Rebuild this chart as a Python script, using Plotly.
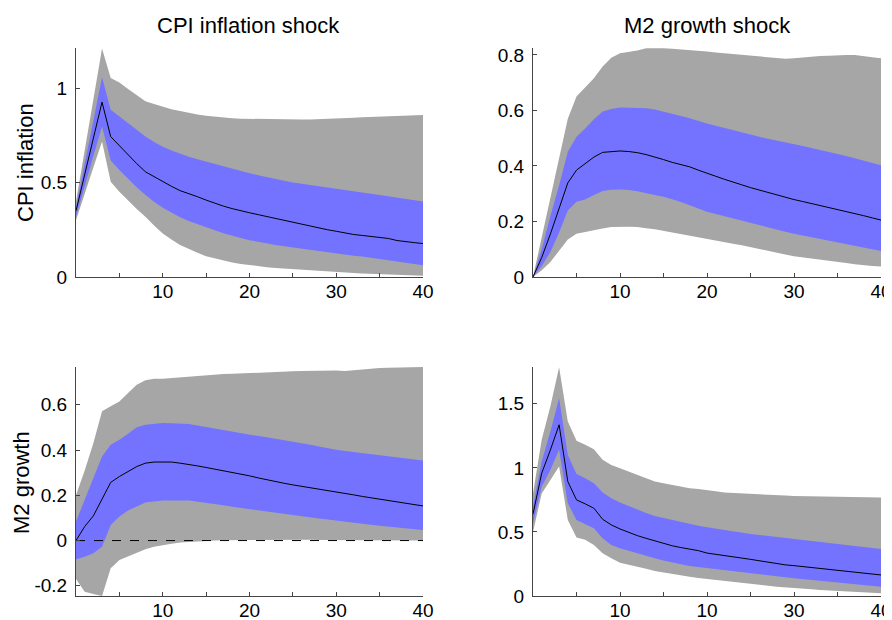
import plotly.graph_objects as go

# horizon (quarters)
horizon = list(range(0, 41))

# panel titles and axis texts
col_titles = ["CPI inflation shock", "M2 growth shock"]
row_titles = ["CPI inflation", "M2 growth"]
xtick_vals = [5, 10, 15, 20, 25, 30, 35, 40]
xtick_text = ["", "10", "", "20", "", "30", "", "40"]
xtick_text_br = ["", "10", "", "10", "", "30", "", "40"]

# top left: CPI inflation -> CPI inflation shock
tl_med = [0.35, 0.54, 0.73, 0.926, 0.743, 0.695, 0.650, 0.600, 0.557, 0.530, 0.505,
          0.480, 0.457, 0.442, 0.425, 0.407, 0.390, 0.375, 0.362, 0.349, 0.340,
          0.330, 0.320, 0.309, 0.298, 0.288, 0.280, 0.270, 0.257, 0.250, 0.242,
          0.233, 0.225, 0.220, 0.214, 0.209, 0.204, 0.193, 0.186, 0.182, 0.177]
tl_hi90 = [0.40, 0.67, 0.94, 1.21, 1.053, 1.030, 0.995, 0.960, 0.930, 0.915, 0.900,
           0.888, 0.878, 0.868, 0.860, 0.853, 0.848, 0.844, 0.840, 0.838, 0.837,
           0.836, 0.834, 0.833, 0.832, 0.832, 0.833, 0.834, 0.835, 0.836, 0.837,
           0.840, 0.843, 0.846, 0.848, 0.850, 0.852, 0.855, 0.856, 0.857, 0.858]
tl_hi68 = [0.37, 0.60, 0.83, 1.057, 0.885, 0.850, 0.815, 0.778, 0.743, 0.715, 0.690,
           0.670, 0.652, 0.637, 0.623, 0.610, 0.598, 0.585, 0.573, 0.560, 0.549,
           0.539, 0.528, 0.518, 0.509, 0.500, 0.493, 0.485, 0.478, 0.471, 0.464,
           0.458, 0.452, 0.446, 0.440, 0.434, 0.427, 0.420, 0.413, 0.406, 0.400]
tl_lo68 = [0.32, 0.48, 0.64, 0.796, 0.616, 0.566, 0.520, 0.475, 0.434, 0.398, 0.366,
           0.340, 0.316, 0.296, 0.278, 0.262, 0.247, 0.232, 0.218, 0.206, 0.195,
           0.186, 0.178, 0.170, 0.163, 0.156, 0.149, 0.142, 0.136, 0.130, 0.124,
           0.119, 0.113, 0.108, 0.102, 0.097, 0.090, 0.083, 0.076, 0.069, 0.062]
tl_lo90 = [0.30, 0.44, 0.58, 0.717, 0.504, 0.451, 0.405, 0.360, 0.319, 0.272, 0.230,
           0.198, 0.170, 0.148, 0.128, 0.110, 0.098, 0.087, 0.077, 0.069, 0.062,
           0.057, 0.052, 0.047, 0.043, 0.039, 0.036, 0.034, 0.031, 0.029, 0.027,
           0.024, 0.021, 0.018, 0.016, 0.014, 0.012, 0.010, 0.009, 0.008, 0.007]

# top right: CPI inflation -> M2 growth shock
tr_med = [0.0, 0.07, 0.155, 0.245, 0.339, 0.385, 0.410, 0.432, 0.449, 0.452, 0.454,
          0.452, 0.448, 0.441, 0.433, 0.423, 0.413, 0.405, 0.397, 0.385, 0.373,
          0.363, 0.352, 0.343, 0.332, 0.322, 0.313, 0.304, 0.295, 0.286, 0.279,
          0.272, 0.265, 0.258, 0.251, 0.244, 0.237, 0.229, 0.221, 0.213, 0.205]
tr_hi90 = [0.0, 0.14, 0.29, 0.43, 0.570, 0.650, 0.683, 0.716, 0.758, 0.790, 0.806,
           0.811, 0.816, 0.824, 0.825, 0.824, 0.822, 0.820, 0.818, 0.815, 0.812,
           0.809, 0.806, 0.803, 0.800, 0.797, 0.795, 0.793, 0.790, 0.786, 0.788,
           0.791, 0.794, 0.796, 0.797, 0.799, 0.800, 0.800, 0.797, 0.792, 0.788]
tr_hi68 = [0.0, 0.10, 0.22, 0.33, 0.451, 0.505, 0.535, 0.568, 0.596, 0.605, 0.611,
           0.610, 0.609, 0.608, 0.603, 0.596, 0.589, 0.580, 0.572, 0.562, 0.553,
           0.545, 0.537, 0.528, 0.519, 0.511, 0.505, 0.498, 0.492, 0.486, 0.479,
           0.472, 0.465, 0.457, 0.450, 0.443, 0.436, 0.428, 0.420, 0.411, 0.403]
tr_lo68 = [0.0, 0.04, 0.09, 0.16, 0.240, 0.271, 0.279, 0.295, 0.310, 0.314, 0.315,
           0.313, 0.309, 0.302, 0.295, 0.289, 0.280, 0.270, 0.259, 0.247, 0.235,
           0.227, 0.218, 0.210, 0.202, 0.195, 0.187, 0.179, 0.171, 0.163, 0.156,
           0.150, 0.144, 0.138, 0.132, 0.126, 0.120, 0.113, 0.107, 0.100, 0.094]
tr_lo90 = [0.0, 0.024, 0.054, 0.096, 0.135, 0.156, 0.163, 0.168, 0.175, 0.180, 0.181,
           0.181, 0.180, 0.176, 0.172, 0.168, 0.162, 0.156, 0.150, 0.144, 0.138,
           0.132, 0.126, 0.120, 0.114, 0.108, 0.101, 0.094, 0.088, 0.081, 0.075,
           0.071, 0.066, 0.062, 0.058, 0.054, 0.050, 0.046, 0.042, 0.040, 0.038]

# bottom left: M2 growth -> CPI inflation shock
bl_med = [0.0, 0.062, 0.109, 0.180, 0.257, 0.283, 0.305, 0.327, 0.342, 0.347, 0.347,
          0.347, 0.342, 0.337, 0.330, 0.323, 0.316, 0.309, 0.302, 0.294, 0.286,
          0.277, 0.268, 0.261, 0.253, 0.246, 0.240, 0.235, 0.229, 0.221, 0.214,
          0.208, 0.202, 0.195, 0.189, 0.183, 0.178, 0.173, 0.165, 0.159, 0.153]
bl_hi90 = [0.20, 0.31, 0.43, 0.571, 0.593, 0.615, 0.652, 0.689, 0.708, 0.715, 0.715,
           0.718, 0.721, 0.726, 0.730, 0.733, 0.735, 0.736, 0.737, 0.739, 0.740,
           0.741, 0.743, 0.745, 0.747, 0.748, 0.749, 0.750, 0.751, 0.751, 0.751,
           0.749, 0.753, 0.757, 0.760, 0.763, 0.764, 0.765, 0.766, 0.767, 0.767]
bl_hi68 = [0.084, 0.180, 0.268, 0.372, 0.423, 0.445, 0.472, 0.501, 0.512, 0.516, 0.519,
           0.518, 0.516, 0.515, 0.508, 0.501, 0.494, 0.487, 0.481, 0.474, 0.468,
           0.462, 0.456, 0.450, 0.444, 0.438, 0.431, 0.423, 0.416, 0.408, 0.401,
           0.396, 0.391, 0.386, 0.381, 0.376, 0.372, 0.367, 0.363, 0.358, 0.354]
bl_lo68 = [-0.083, -0.071, -0.056, -0.027, 0.069, 0.106, 0.133, 0.150, 0.168, 0.173, 0.177,
           0.177, 0.177, 0.177, 0.173, 0.168, 0.162, 0.156, 0.149, 0.142, 0.136,
           0.132, 0.127, 0.123, 0.118, 0.114, 0.109, 0.103, 0.098, 0.093, 0.088,
           0.084, 0.079, 0.074, 0.070, 0.065, 0.061, 0.058, 0.054, 0.050, 0.047]
bl_lo90 = [-0.17, -0.226, -0.236, -0.245, -0.122, -0.086, -0.071, -0.053, -0.038, -0.027, -0.019,
           -0.014, -0.009, -0.006, -0.004, -0.002, 0.000, 0.001, 0.002, 0.003, 0.003,
           0.003, 0.004, 0.004, 0.004, 0.004, 0.004, 0.004, 0.003, 0.003, 0.003,
           0.003, 0.002, 0.002, 0.002, 0.001, 0.001, 0.001, 0.000, 0.000, 0.000]
bl_zero = [0.0] * len(horizon)

# bottom right: M2 growth -> M2 growth shock
br_med = [0.64, 0.958, 1.14, 1.336, 0.893, 0.750, 0.719, 0.685, 0.599, 0.555, 0.523,
          0.496, 0.471, 0.450, 0.430, 0.413, 0.392, 0.378, 0.366, 0.354, 0.335,
          0.324, 0.315, 0.305, 0.296, 0.286, 0.275, 0.263, 0.250, 0.243, 0.237,
          0.230, 0.223, 0.216, 0.209, 0.203, 0.196, 0.190, 0.181, 0.172, 0.164]
br_hi90 = [0.80, 1.22, 1.48, 1.786, 1.362, 1.211, 1.180, 1.146, 1.063, 1.023, 0.997,
           0.970, 0.945, 0.918, 0.893, 0.880, 0.867, 0.854, 0.841, 0.834, 0.828,
           0.817, 0.807, 0.803, 0.800, 0.797, 0.794, 0.790, 0.787, 0.784, 0.781,
           0.780, 0.779, 0.778, 0.777, 0.776, 0.774, 0.773, 0.771, 0.770, 0.768]
br_hi68 = [0.70, 1.05, 1.284, 1.544, 1.10, 0.953, 0.919, 0.880, 0.807, 0.763, 0.729,
           0.700, 0.672, 0.648, 0.625, 0.609, 0.594, 0.578, 0.563, 0.549, 0.536,
           0.525, 0.515, 0.504, 0.494, 0.484, 0.476, 0.468, 0.459, 0.451, 0.443,
           0.436, 0.428, 0.421, 0.413, 0.406, 0.398, 0.390, 0.383, 0.375, 0.367]
br_lo68 = [0.568, 0.854, 0.984, 1.141, 0.724, 0.594, 0.560, 0.529, 0.450, 0.398, 0.372,
           0.352, 0.333, 0.313, 0.294, 0.277, 0.260, 0.247, 0.234, 0.225, 0.216,
           0.208, 0.200, 0.192, 0.185, 0.177, 0.169, 0.161, 0.154, 0.146, 0.138,
           0.131, 0.124, 0.117, 0.111, 0.104, 0.098, 0.092, 0.085, 0.079, 0.073]
br_lo90 = [0.50, 0.80, 0.906, 1.01, 0.594, 0.456, 0.438, 0.398, 0.333, 0.294, 0.260,
           0.244, 0.229, 0.212, 0.195, 0.183, 0.172, 0.161, 0.151, 0.140, 0.130,
           0.123, 0.116, 0.108, 0.101, 0.094, 0.087, 0.080, 0.073, 0.066, 0.060,
           0.056, 0.052, 0.047, 0.043, 0.039, 0.035, 0.032, 0.028, 0.024, 0.021]

# y ticks per panel
tl_yticks = [0, 0.5, 1]
tl_ytext = ["0", "0.5", "1"]
tr_yticks = [0, 0.2, 0.4, 0.6, 0.8]
tr_ytext = ["0", "0.2", "0.4", "0.6", "0.8"]
bl_yticks = [-0.2, 0, 0.2, 0.4, 0.6]
bl_ytext = ["-0.2", "0", "0.2", "0.4", "0.6"]
br_yticks = [0, 0.5, 1, 1.5]
br_ytext = ["0", "0.5", "1", "1.5"]

GRAY = "#a6a6a6"
BLUE = "#7373ff"
FONT = "Liberation Sans, Arial, sans-serif"

# the page body has an 8px margin, so the figure starts at (8, 8) in the window
W, H, OFF = 884, 612, 8


def px_x(s):
    return (s - OFF) / W


def px_y(s):
    return 1 - (s - OFF) / H


fig = go.Figure()


def band(x, hi, lo, color, ax):
    fig.add_trace(go.Scatter(x=x + x[::-1], y=hi + lo[::-1], fill="toself",
                             fillcolor=color, line=dict(width=0), mode="lines",
                             hoverinfo="skip", xaxis="x" + ax, yaxis="y" + ax))


def panel(ax, med, hi90, hi68, lo68, lo90, zero=None):
    band(horizon, hi90, lo90, GRAY, ax)
    band(horizon, hi68, lo68, BLUE, ax)
    if zero is not None:
        fig.add_trace(go.Scatter(x=horizon, y=zero, mode="lines",
                                 line=dict(color="black", width=1, dash="dash"),
                                 xaxis="x" + ax, yaxis="y" + ax))
    fig.add_trace(go.Scatter(x=horizon, y=med, mode="lines",
                             line=dict(color="black", width=1),
                             xaxis="x" + ax, yaxis="y" + ax))


panel("", tl_med, tl_hi90, tl_hi68, tl_lo68, tl_lo90)
panel("2", tr_med, tr_hi90, tr_hi68, tr_lo68, tr_lo90)
panel("3", bl_med, bl_hi90, bl_hi68, bl_lo68, bl_lo90, zero=bl_zero)
panel("4", br_med, br_hi90, br_hi68, br_lo68, br_lo90)

axis_style = dict(showline=True, linecolor="#444", linewidth=1, showgrid=False,
                  zeroline=False, ticks="inside", ticklen=4, tickcolor="#444",
                  automargin=False,
                  tickfont=dict(size=19, color="black", family=FONT), fixedrange=True)
xaxis_style = dict(axis_style, ticklabelstandoff=-3)
yaxis_style = dict(axis_style, ticklabelstandoff=4)

col_dom = [[px_x(76), px_x(423)], [px_x(533), px_x(881)]]
row_dom = [[px_y(277), px_y(48)], [px_y(596), px_y(367)]]

fig.update_layout(
    width=W, height=H,
    margin=dict(l=0, r=0, t=0, b=0),
    paper_bgcolor="white", plot_bgcolor="white",
    showlegend=False,
    font=dict(family=FONT, color="black"),
    xaxis=dict(xaxis_style, domain=col_dom[0], anchor="y", range=[0, 40],
               tickvals=xtick_vals, ticktext=xtick_text),
    yaxis=dict(yaxis_style, domain=row_dom[0], anchor="x", range=[0, 1.212],
               tickvals=tl_yticks, ticktext=tl_ytext),
    xaxis2=dict(xaxis_style, domain=col_dom[1], anchor="y2", range=[0, 40],
                tickvals=xtick_vals, ticktext=xtick_text),
    yaxis2=dict(yaxis_style, domain=row_dom[0], anchor="x2", range=[0, 0.825],
                tickvals=tr_yticks, ticktext=tr_ytext),
    xaxis3=dict(xaxis_style, domain=col_dom[0], anchor="y3", range=[0, 40],
                tickvals=xtick_vals, ticktext=xtick_text),
    yaxis3=dict(yaxis_style, domain=row_dom[1], anchor="x3", range=[-0.245, 0.767],
                tickvals=bl_yticks, ticktext=bl_ytext),
    xaxis4=dict(xaxis_style, domain=col_dom[1], anchor="y4", range=[0, 40],
                tickvals=xtick_vals, ticktext=xtick_text_br),
    yaxis4=dict(yaxis_style, domain=row_dom[1], anchor="x4", range=[0, 1.787],
                tickvals=br_yticks, ticktext=br_ytext),
)

# column titles and row labels
label_pos = [(col_titles[0], 249, 25, 0), (col_titles[1], 707, 25, 0),
             (row_titles[0], 25, 163, -90), (row_titles[1], 21, 483, -90)]
for txt, sx, sy, ang in label_pos:
    fig.add_annotation(text=txt, x=px_x(sx), y=px_y(sy), xref="paper", yref="paper",
                       xanchor="center", yanchor="middle", showarrow=False,
                       textangle=ang, font=dict(size=22))

fig.write_html("out.html")
